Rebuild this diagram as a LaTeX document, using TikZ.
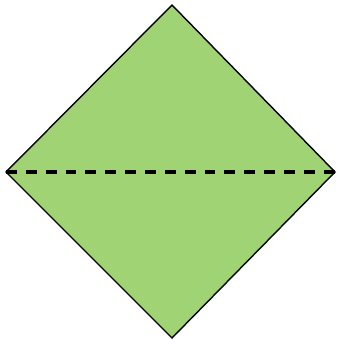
\documentclass[tikz,border=0pt]{standalone}
\usepackage{xcolor}
\usepackage{tikz}
\usetikzlibrary{positioning}

\definecolor{leafgreen}{RGB}{160,211,115}

\begin{document}
\begin{tikzpicture}[x=0.02cm, y=-0.02cm,
    facet/.style={draw=black, line width=0.8pt, fill=#1, line join=miter},
    foldline/.style={line width=2.2pt, dash pattern=on 6.2pt off 5.1pt, #1}
]

\useasboundingbox (0,0) rectangle (339,345);

% corners of the folded square
\coordinate (top) at (172, 5);
\coordinate (lft) at (6, 172);
\coordinate (rgt) at (335, 172);
\coordinate (bot) at (172, 338);

\draw[facet=leafgreen] (top) -- (rgt) -- (bot) -- (lft) -- cycle;

\draw[foldline=black] (lft) -- (rgt);

\end{tikzpicture}
\end{document}
